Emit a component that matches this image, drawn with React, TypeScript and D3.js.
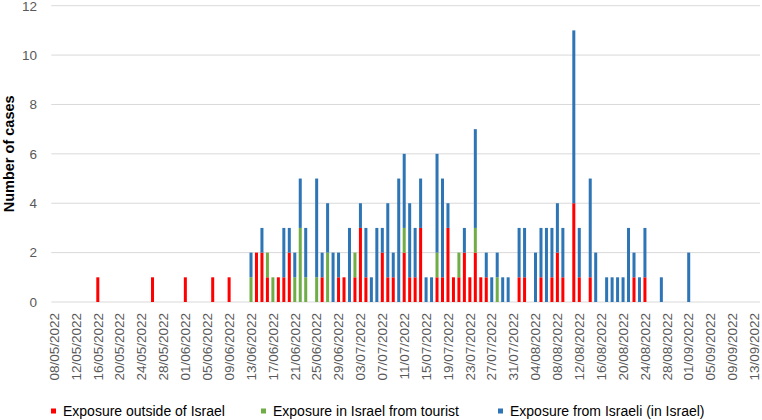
import React from "react";
import * as d3 from "d3";

// Days with cases (dd/mm/yyyy)
const caseDates = [
  "16/05/2022", "26/05/2022", "01/06/2022", "06/06/2022", "09/06/2022",
  "13/06/2022", "14/06/2022", "15/06/2022", "16/06/2022", "17/06/2022", "18/06/2022", "19/06/2022", "20/06/2022",
  "21/06/2022", "22/06/2022", "23/06/2022", "25/06/2022", "26/06/2022", "27/06/2022", "28/06/2022", "29/06/2022",
  "30/06/2022", "01/07/2022", "02/07/2022", "03/07/2022", "04/07/2022", "05/07/2022", "06/07/2022", "07/07/2022",
  "08/07/2022", "09/07/2022", "10/07/2022", "11/07/2022", "12/07/2022", "13/07/2022", "14/07/2022", "15/07/2022",
  "16/07/2022", "17/07/2022", "18/07/2022", "19/07/2022", "20/07/2022", "21/07/2022", "22/07/2022", "23/07/2022",
  "24/07/2022", "25/07/2022", "26/07/2022", "27/07/2022", "28/07/2022", "29/07/2022", "30/07/2022", "01/08/2022",
  "02/08/2022", "04/08/2022", "05/08/2022", "06/08/2022", "07/08/2022", "08/08/2022", "09/08/2022", "11/08/2022",
  "12/08/2022", "14/08/2022", "15/08/2022", "17/08/2022", "18/08/2022", "19/08/2022", "20/08/2022", "21/08/2022",
  "22/08/2022", "23/08/2022", "24/08/2022", "27/08/2022", "01/09/2022",
];

const outsideIsrael = [
  1, 1, 1, 1, 1,
  0, 2, 2, 1, 0, 1, 1, 2,
  0, 0, 0, 0, 1, 0, 0, 1,
  1, 0, 1, 3, 1, 0, 0, 2,
  1, 1, 0, 2, 1, 1, 3, 0,
  0, 1, 1, 3, 1, 1, 2, 1,
  2, 1, 1, 0, 0, 0, 0, 1,
  1, 0, 1, 0, 1, 2, 1, 4,
  1, 1, 0, 0, 0, 0, 0, 0,
  1, 0, 1, 0, 0,
];

const fromTourist = [
  0, 0, 0, 0, 0,
  1, 0, 0, 1, 1, 0, 0, 0,
  1, 3, 1, 1, 0, 2, 0, 0,
  0, 0, 1, 0, 0, 0, 0, 0,
  0, 0, 0, 1, 0, 0, 0, 0,
  0, 1, 0, 0, 0, 1, 0, 0,
  1, 0, 0, 0, 1, 0, 0, 0,
  0, 0, 0, 0, 0, 0, 0, 0,
  0, 0, 0, 0, 0, 0, 0, 0,
  0, 0, 0, 0, 0,
];

const fromIsraeli = [
  0, 0, 0, 0, 0,
  1, 0, 1, 0, 0, 0, 2, 1,
  1, 2, 2, 4, 1, 2, 2, 1,
  0, 3, 0, 1, 2, 1, 3, 1,
  3, 1, 5, 3, 3, 2, 2, 1,
  1, 4, 4, 1, 0, 0, 1, 0,
  4, 0, 1, 1, 1, 1, 1, 2,
  2, 2, 2, 3, 2, 2, 2, 7,
  2, 4, 2, 1, 1, 1, 1, 3,
  1, 1, 2, 1, 2,
];

const seriesNames = [
  "Exposure outside of Israel",
  "Exposure in Israel from tourist",
  "Exposure from Israeli (in Israel)",
];
const seriesColors = ["#FF0000", "#70AD47", "#2E75B6"];

const yTicks = [0, 2, 4, 6, 8, 10, 12];
const firstDay = "08/05/2022";
const lastDay = "13/09/2022";

const parse = d3.timeParse("%d/%m/%Y");
const fmt = d3.timeFormat("%d/%m/%Y");

export default function App() {
  const W = 762;
  const H = 420;
  const plotLeft = 51.3;
  const plotRight = 757.1;
  const yBase = 302;
  const yTop = 5.7;

  const allDays = d3.timeDay
    .range(parse(firstDay)!, d3.timeDay.offset(parse(lastDay)!, 1))
    .map((d) => fmt(d));
  const xTickLabels = allDays.filter((_, i) => i % 4 === 0);

  const x = d3.scaleBand<string>().domain(allDays).range([plotLeft, plotRight]).paddingInner(0.45).paddingOuter(0.225);
  const y = d3.scaleLinear().domain([0, 12]).range([yBase, yTop]);

  const rows = caseDates.map((date, i) => ({
    date,
    s0: outsideIsrael[i],
    s1: fromTourist[i],
    s2: fromIsraeli[i],
  }));
  const stacked = d3.stack<any>().keys(["s0", "s1", "s2"])(rows);

  const bw = x.bandwidth();
  const gridRight = 760;

  const legendItems = [
    { x: 51, tx: 63 },
    { x: 261, tx: 273 },
    { x: 498, tx: 510 },
  ];

  return (
    <svg
      width={W}
      height={H}
      style={{ position: "absolute", left: 0, top: 0, background: "#fff" }}
      fontFamily="'Liberation Sans', Arial, sans-serif"
    >
      {yTicks.map((t) => (
        <g key={t}>
          <line x1={plotLeft} x2={gridRight} y1={y(t)} y2={y(t)} stroke="#D9D9D9" strokeWidth={1} />
          <text x={37} y={y(t)} dy="0.36em" textAnchor="end" fontSize={13.5} fill="#595959">
            {t}
          </text>
        </g>
      ))}
      {stacked.map((layer, li) =>
        layer.map((seg, i) =>
          seg[1] > seg[0] ? (
            <rect
              key={`${li}-${i}`}
              x={x(rows[i].date)!}
              y={y(seg[1])}
              width={bw}
              height={y(seg[0]) - y(seg[1])}
              fill={seriesColors[li]}
            />
          ) : null
        )
      )}
      {xTickLabels.map((d) => {
        const cx = x(d)! + bw / 2;
        return (
          <text
            key={d}
            transform={`translate(${cx},${yBase + 11}) rotate(-90)`}
            textAnchor="end"
            dy="0.35em"
            fontSize={13.5}
            fill="#595959"
          >
            {d}
          </text>
        );
      })}
      <text
        transform={`translate(9,${(yBase + yTop) / 2}) rotate(-90)`}
        textAnchor="middle"
        dy="0.35em"
        fontSize={14.5}
        fontWeight="bold"
        fill="#000"
      >
        Number of cases
      </text>
      {seriesNames.map((n, i) => (
        <g key={n}>
          <rect x={legendItems[i].x} y={408.5} width={5} height={5} fill={seriesColors[i]} />
          <text x={legendItems[i].tx} y={411} dy="0.35em" fontSize={14} fill="#000">
            {n}
          </text>
        </g>
      ))}
    </svg>
  );
}
